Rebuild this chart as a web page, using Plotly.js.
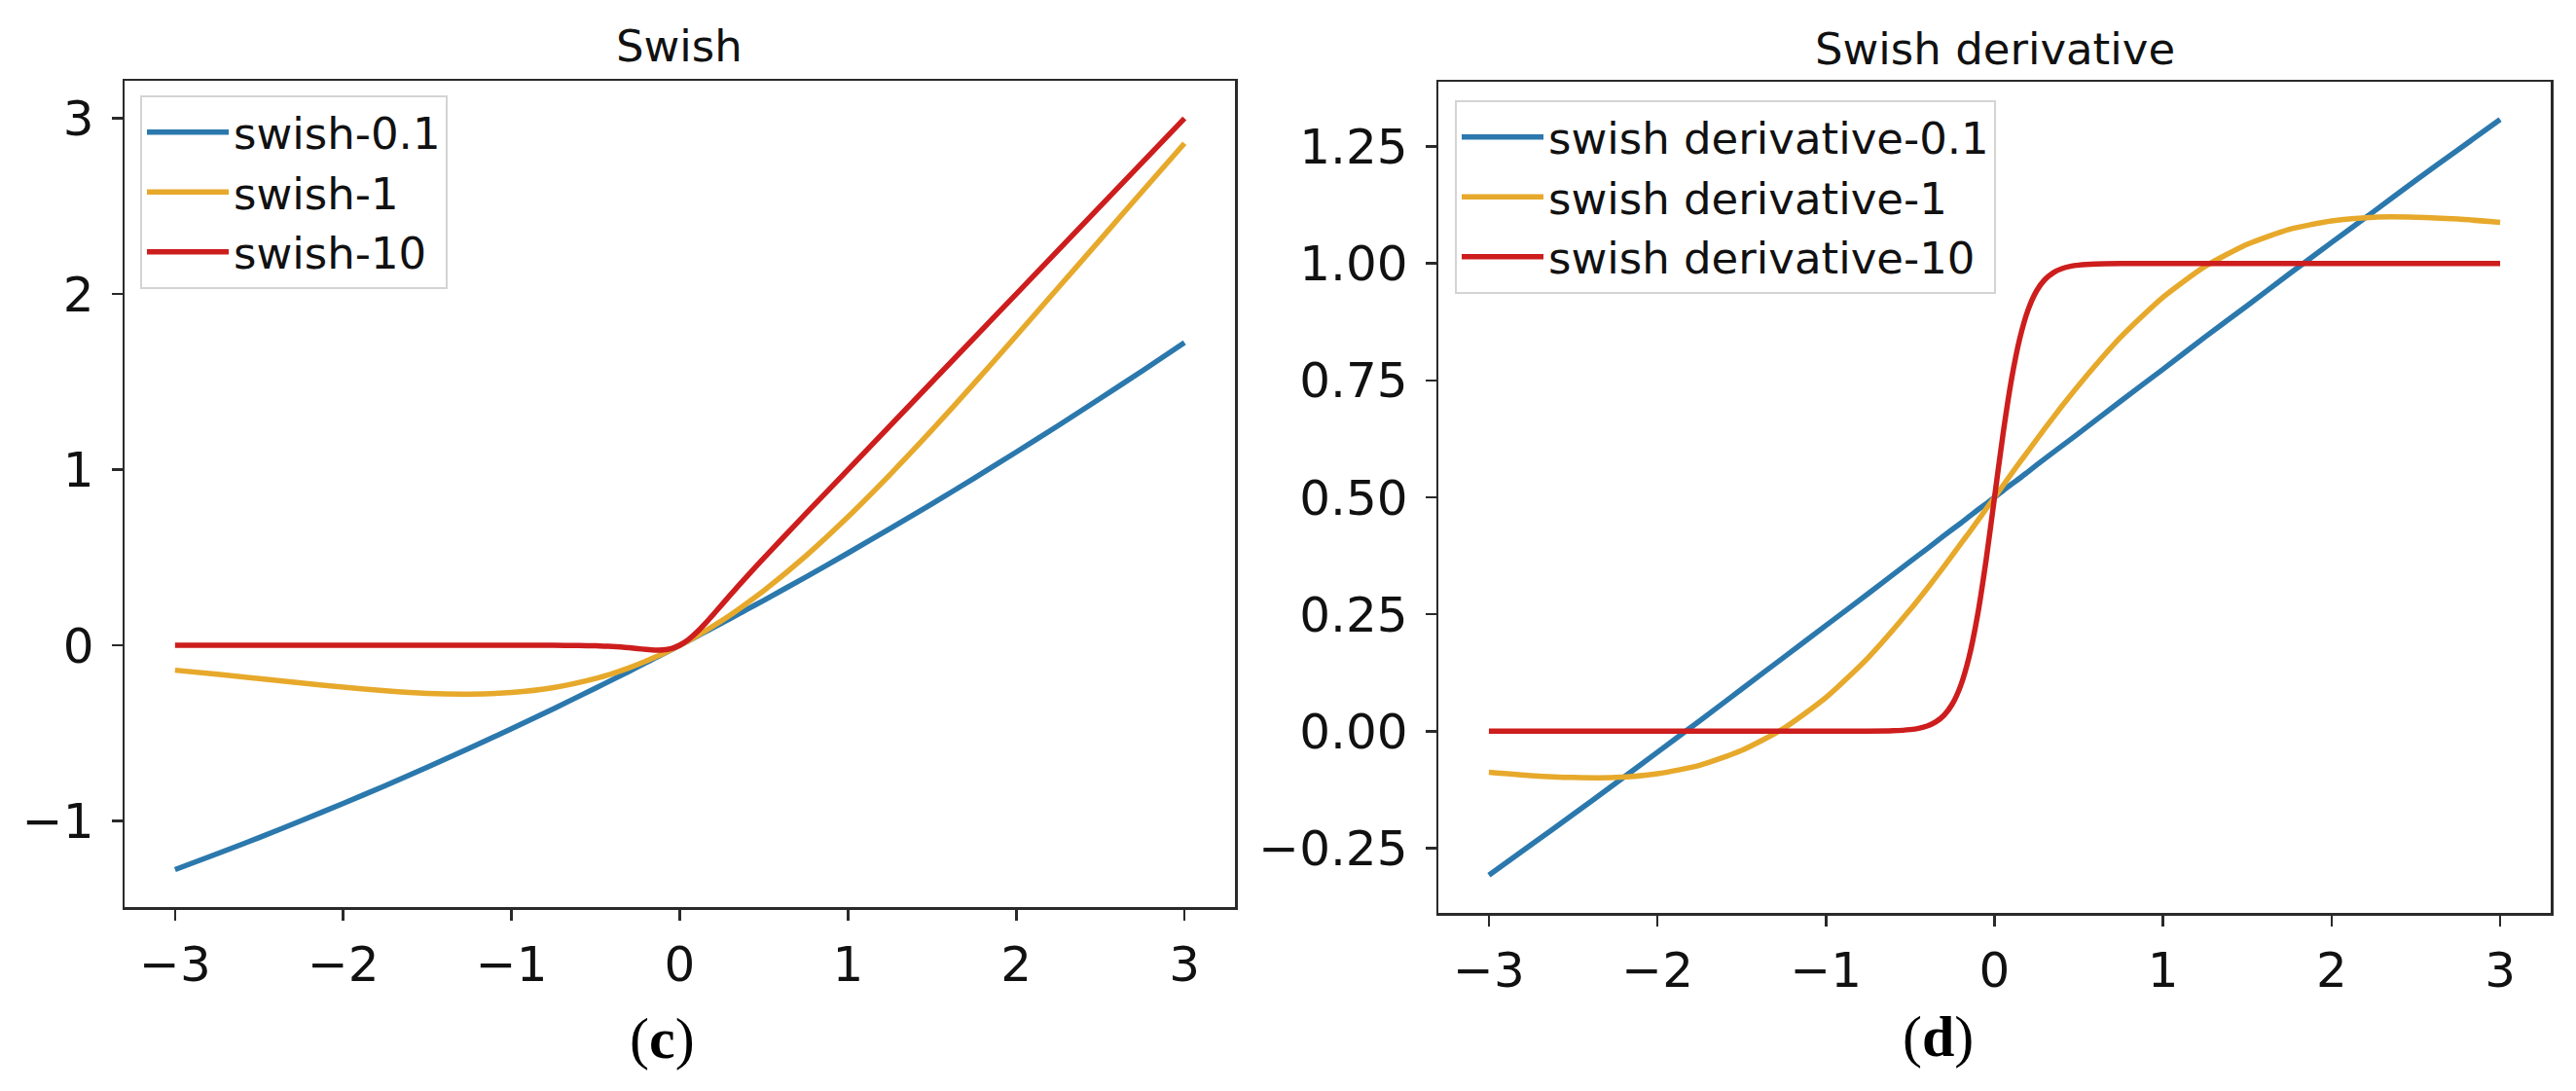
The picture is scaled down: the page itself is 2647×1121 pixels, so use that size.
<!DOCTYPE html>
<html>
<head>
<meta charset="utf-8">
<script src="https://cdn.plot.ly/plotly-3.0.1.min.js"></script>
<style>html,body{margin:0;padding:0;background:#fff;}#chart{width:2647px;height:1121px;}</style>
</head>
<body>
<div id="chart"></div>
<script>
// ---- data ----
const xs = [-3, -2.75, -2.5, -2.25, -2, -1.75, -1.5, -1.25, -1, -0.75, -0.5, -0.4, -0.3, -0.2, -0.15, -0.1, -0.05, 0, 0.05, 0.1, 0.15, 0.2, 0.3, 0.4, 0.5, 0.75, 1, 1.25, 1.5, 1.75, 2, 2.25, 2.5, 2.75, 3];
const xs10 = [-3, -2, -1, -0.75, -0.6, -0.5, -0.45, -0.4, -0.35, -0.3, -0.25, -0.2, -0.15, -0.1, -0.05, 0, 0.05, 0.1, 0.15, 0.2, 0.25, 0.3, 0.35, 0.4, 0.45, 0.5, 0.6, 0.75, 1, 2, 3];

const swish01 = [-1.277, -1.187, -1.095, -0.999, -0.900, -0.799, -0.694, -0.586, -0.475, -0.361, -0.244, -0.196, -0.148, -0.099, -0.074, -0.050, -0.025, 0, 0.025, 0.050, 0.076, 0.101, 0.152, 0.204, 0.256, 0.389, 0.525, 0.664, 0.806, 0.951, 1.100, 1.251, 1.406, 1.563, 1.723];
const swish1 = [-0.142, -0.165, -0.190, -0.215, -0.238, -0.259, -0.274, -0.278, -0.269, -0.241, -0.189, -0.161, -0.128, -0.090, -0.069, -0.048, -0.024, 0, 0.026, 0.052, 0.081, 0.110, 0.172, 0.240, 0.311, 0.509, 0.731, 0.972, 1.226, 1.491, 1.762, 2.036, 2.310, 2.585, 2.858];
const swish10 = [0, 0, 0, -0.0004, -0.0015, -0.0033, -0.0049, -0.0072, -0.0103, -0.0142, -0.0190, -0.0238, -0.0274, -0.0269, -0.0189, 0, 0.0311, 0.0731, 0.1226, 0.1762, 0.2310, 0.2858, 0.3397, 0.3928, 0.4451, 0.4967, 0.5985, 0.7496, 1.0, 2.0, 3.0];

const dswish01 = [-0.308, -0.243, -0.178, -0.112, -0.045, 0.022, 0.090, 0.158, 0.226, 0.294, 0.363, 0.390, 0.418, 0.445, 0.459, 0.473, 0.486, 0.500, 0.514, 0.528, 0.541, 0.555, 0.583, 0.610, 0.637, 0.706, 0.774, 0.843, 0.910, 0.978, 1.045, 1.111, 1.178, 1.243, 1.308];
const dswish1 = [-0.088, -0.095, -0.099, -0.099, -0.091, -0.073, -0.041, 0.006, 0.072, 0.157, 0.260, 0.305, 0.352, 0.401, 0.425, 0.450, 0.475, 0.500, 0.525, 0.550, 0.575, 0.599, 0.648, 0.695, 0.740, 0.843, 0.928, 0.994, 1.041, 1.073, 1.091, 1.099, 1.099, 1.095, 1.088];
const dswish10 = [0, 0, 0, 0.0001, 0.0010, 0.0034, 0.0061, 0.0109, 0.0194, 0.0339, 0.0583, 0.0982, 0.1601, 0.2493, 0.3658, 0.5, 0.6342, 0.7507, 0.8399, 0.9018, 0.9417, 0.9661, 0.9806, 0.9891, 0.9939, 0.9966, 0.9990, 0.9999, 1.0, 1.0, 1.0];

const namesLeft = ['swish-0.1', 'swish-1', 'swish-10'];
const namesRight = ['swish derivative-0.1', 'swish derivative-1', 'swish derivative-10'];
const colors = ['#2b78ad', '#e7a92b', '#cd1d1d'];

const xTickVals = [-3, -2, -1, 0, 1, 2, 3];
const xTickText = ['\u22123', '\u22122', '\u22121', '0', '1', '2', '3'];
const yTickVals1 = [-1, 0, 1, 2, 3];
const yTickText1 = ['\u22121', '0', '1', '2', '3'];
const yTickVals2 = [-0.25, 0, 0.25, 0.5, 0.75, 1.0, 1.25];
const yTickText2 = ['\u22120.25', '0.00', '0.25', '0.50', '0.75', '1.00', '1.25'];

const titles = ['Swish', 'Swish derivative'];
const panelLabels = ['(<b>c</b>)', '(<b>d</b>)'];

// ---- chart ----
const FONT = 'DejaVu Sans, Liberation Sans, sans-serif';
const FS = 45;      // legend and titles
const TFS = 50;     // tick labels
const W = 2647, H = 1121;
const lw = 5.5;

function tr(x, y, name, color, xa, ya, leg) {
  return {x: x, y: y, name: name, type: 'scatter', mode: 'lines',
    line: {color: color, width: lw, shape: 'spline', smoothing: 0.6},
    xaxis: xa, yaxis: ya, legend: leg, hoverinfo: 'skip'};
}

const data = [
  tr(xs, swish01, namesLeft[0], colors[0], 'x', 'y', 'legend'),
  tr(xs, swish1, namesLeft[1], colors[1], 'x', 'y', 'legend'),
  tr(xs10, swish10, namesLeft[2], colors[2], 'x', 'y', 'legend'),
  tr(xs, dswish01, namesRight[0], colors[0], 'x2', 'y2', 'legend2'),
  tr(xs, dswish1, namesRight[1], colors[1], 'x2', 'y2', 'legend2'),
  tr(xs10, dswish10, namesRight[2], colors[2], 'x2', 'y2', 'legend2')
];

function axisBase() {
  return {showgrid: false, zeroline: false, showline: true, mirror: true,
    linecolor: '#2a2a2a', linewidth: 2.5, ticks: 'outside', ticklen: 11,
    tickwidth: 2.5, tickcolor: '#2a2a2a', tickmode: 'array',
    tickfont: {family: FONT, size: TFS, color: '#111'}, fixedrange: true};
}

const legBase = {font: {family: FONT, size: FS, color: '#111'}, bgcolor: 'rgba(255,255,255,0.85)',
  bordercolor: '#d4d4d4', borderwidth: 2, xanchor: 'left', yanchor: 'top', itemwidth: 84,
  tracegroupgap: 0};

const layout = {
  width: W, height: H, margin: {l: 0, r: 0, t: 0, b: 0}, paper_bgcolor: '#fff', plot_bgcolor: '#fff',
  showlegend: true,
  xaxis: Object.assign(axisBase(), {domain: [128 / W, 1269 / W], range: [-3.3, 3.3], anchor: 'y',
    tickvals: xTickVals, ticktext: xTickText, ticklabelstandoff: 2}),
  yaxis: Object.assign(axisBase(), {domain: [1 - 932 / H, 1 - 83 / H], range: [-1.4905, 3.2138], anchor: 'x',
    tickvals: yTickVals1, ticktext: yTickText1, ticklabelstandoff: 8}),
  xaxis2: Object.assign(axisBase(), {domain: [1478 / W, 2621 / W], range: [-3.3, 3.3], anchor: 'y2',
    tickvals: xTickVals, ticktext: xTickText, ticklabelstandoff: 2}),
  yaxis2: Object.assign(axisBase(), {domain: [1 - 938 / H, 1 - 84 / H], range: [-0.3886, 1.3886], anchor: 'x2',
    tickvals: yTickVals2, ticktext: yTickText2, ticklabelstandoff: 8}),
  legend: Object.assign({}, legBase, {x: 144 / W, y: 1 - 98 / H}),
  legend2: Object.assign({}, legBase, {x: 1495 / W, y: 1 - 103 / H}),
  annotations: [
    {text: titles[0], xref: 'paper', yref: 'paper', x: 698 / W, y: 1 - 47 / H, xanchor: 'center', yanchor: 'middle',
      showarrow: false, font: {family: FONT, size: FS, color: '#111'}},
    {text: titles[1], xref: 'paper', yref: 'paper', x: 2050 / W, y: 1 - 50 / H, xanchor: 'center', yanchor: 'middle',
      showarrow: false, font: {family: FONT, size: FS, color: '#111'}},
    {text: panelLabels[0], xref: 'paper', yref: 'paper', x: 680 / W, y: 1 - 1067 / H, xanchor: 'center', yanchor: 'middle',
      showarrow: false, font: {family: 'Liberation Serif, DejaVu Serif, serif', size: 60, color: '#000'}},
    {text: panelLabels[1], xref: 'paper', yref: 'paper', x: 1991 / W, y: 1 - 1065 / H, xanchor: 'center', yanchor: 'middle',
      showarrow: false, font: {family: 'Liberation Serif, DejaVu Serif, serif', size: 60, color: '#000'}}
  ]
};

Plotly.newPlot('chart', data, layout, {staticPlot: true, displayModeBar: false});
</script>
</body>
</html>
